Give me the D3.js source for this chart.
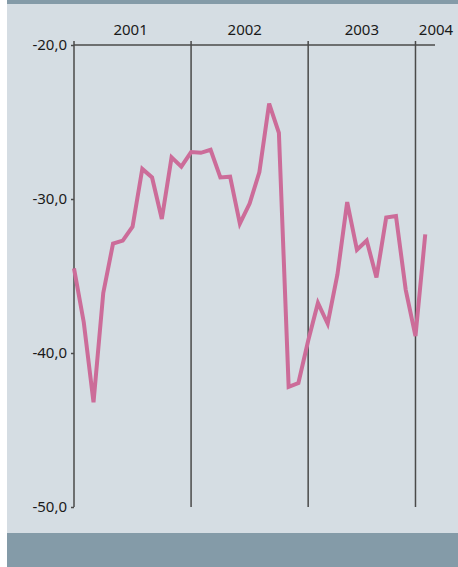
<!DOCTYPE html>
<html>
<head>
<meta charset="utf-8">
<script src="https://cdn.jsdelivr.net/npm/d3@7"></script>
<style>
  html, body { margin: 0; padding: 0; background: #ffffff; }
  svg { display: block; }
</style>
</head>
<body>
<script>
// ---- data (monthly index, starting Jan 2001) ----
const values = [
  -34.5, -38.0, -43.2, -36.1, -32.9, -32.7, -31.8, -28.05, -28.6, -31.3, -27.3, -27.9,
  -26.95, -27.0, -26.8, -28.6, -28.55, -31.6, -30.3, -28.25, -23.8, -25.7, -42.2, -41.95,
  -39.2, -36.75, -38.1, -34.9, -30.2, -33.3, -32.7, -35.1, -31.2, -31.1, -35.9, -38.9,
  -32.3
];
const yearLabels = ["2001", "2002", "2003", "2004"];
const yearStartIndex = [0, 12, 24, 35];
const yearLabelIndex = [5.8, 17.5, 29.5, 37.1];
const yTicks = [-20, -30, -40, -50];
const yTickLabels = ["-20,0", "-30,0", "-40,0", "-50,0"];

const W = 458, H = 567;
const svg = d3.select("body").append("svg").attr("width", W).attr("height", H);

// background panel and bands
svg.append("rect").attr("x", 7).attr("y", 0).attr("width", W - 7).attr("height", H).attr("fill", "#d5dde3");
svg.append("rect").attr("x", 7).attr("y", 0).attr("width", W - 7).attr("height", 4).attr("fill", "#849ba8");
svg.append("rect").attr("x", 7).attr("y", 533).attr("width", W - 7).attr("height", H - 533).attr("fill", "#849ba8");

const x = d3.scaleLinear().domain([0, 37]).range([74, 435]);
const y = d3.scaleLinear().domain([-20, -50]).range([45, 507]);

const axisColor = "#4a4a4a";
const font = "'Noto Sans', 'Open Sans', sans-serif";

// year gridlines (full height) with small tick above
svg.append("g").selectAll("line").data(yearStartIndex).join("line")
  .attr("x1", d => x(d)).attr("x2", d => x(d))
  .attr("y1", y(-20) - 4).attr("y2", y(-50))
  .attr("stroke", axisColor).attr("stroke-width", 1.5);

// top axis line
svg.append("line")
  .attr("x1", x(0)).attr("x2", x(37))
  .attr("y1", y(-20)).attr("y2", y(-20))
  .attr("stroke", axisColor).attr("stroke-width", 1.5);

// y axis
const yAxis = d3.axisLeft(y).tickValues(yTicks)
  .tickFormat((d, i) => yTickLabels[i]).tickSize(3).tickPadding(4);
const gy = svg.append("g").attr("transform", `translate(${x(0)},0)`).call(yAxis);
gy.select(".domain").remove();
gy.selectAll(".tick line").attr("stroke", axisColor).attr("stroke-width", 1.5);
gy.selectAll(".tick text").attr("font-family", font).attr("font-size", 15)
  .attr("fill", "#1a1a1a");

// year labels
svg.append("g").selectAll("text").data(yearLabels).join("text")
  .attr("x", (d, i) => x(yearLabelIndex[i]))
  .attr("y", 35)
  .attr("text-anchor", "middle")
  .attr("font-family", font).attr("font-size", 15).attr("fill", "#1a1a1a")
  .text(d => d);

// series line
const line = d3.line().x((d, i) => x(i)).y(d => y(d));
svg.append("path").datum(values)
  .attr("d", line)
  .attr("fill", "none")
  .attr("stroke", "#cc6c99")
  .attr("stroke-width", 4)
  .attr("stroke-linejoin", "miter");
</script>
</body>
</html>
